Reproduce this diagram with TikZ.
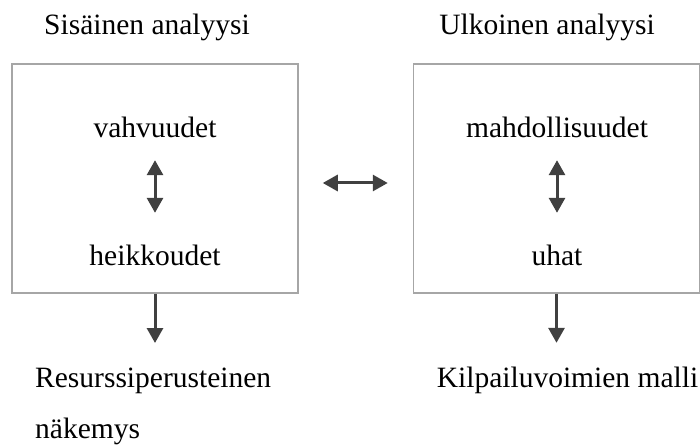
\documentclass[tikz,border=0pt]{standalone}
\usepackage{fontspec}
\setmainfont{Liberation Serif}
\usepackage{xcolor}
\usepackage{tikz}
\usetikzlibrary{positioning, arrows.meta}
\definecolor{boxgray}{HTML}{A6A6A6}
\definecolor{arrgray}{HTML}{404040}

\begin{document}
\begin{tikzpicture}[
  x=1pt, y=-1pt,
  panel/.style={rectangle, draw=boxgray, line width=1.5pt, minimum width=286pt, minimum height=229pt},
  lbl/.style={inner sep=0pt, font={\fontsize{29.5pt}{51pt}\selectfont}, text height=19pt, text depth=6pt},
  arr/.style={-{Triangle[length=15pt, width=16pt]}, line width=3pt, draw=arrgray, fill=arrgray},
  darr/.style={{Triangle[length=15pt, width=16pt]}-{Triangle[length=15pt, width=16pt]}, line width=3pt, draw=arrgray, fill=arrgray}
]
\useasboundingbox (0,0) rectangle (700,446);
\node[panel] (sis) at (155,178.5) {};
\node[panel] (ulk) at (556.5,178.5) {};
\node[lbl, anchor=base] (sist) at (147,35) {Sisäinen analyysi};
\node[lbl, anchor=base] (ulkt) at (547,35) {Ulkoinen analyysi};
\node[lbl, anchor=base] (vah) at (155,138) {vahvuudet};
\node[lbl, anchor=base] (hei) at (155,265) {heikkoudet};
\node[lbl, anchor=base] (mah) at (557,138) {mahdollisuudet};
\node[lbl, anchor=base] (uha) at (557,265) {uhat};
\node[inner sep=0pt, font={\fontsize{29.5pt}{51pt}\selectfont}, align=left, anchor=north west] (res) at (35,368) {Resurssiperusteinen\\näkemys};
\node[lbl, anchor=base] (kil) at (567.5,387) {Kilpailuvoimien malli};
\draw[darr, shorten <=16pt, shorten >=33pt] (vah.south) -- (hei.north);
\draw[darr, shorten <=16pt, shorten >=33pt] (mah.south) -- (uha.north);
\draw[darr, shorten <=24pt, shorten >=25pt] ([yshift=-4.5pt]sis.east) -- ([yshift=-4.5pt]ulk.west);
\draw[arr, shorten >=25pt] (sis.south) -- (sis.south |- res.north);
\draw[arr, shorten >=25pt] (ulk.south) -- (ulk.south |- kil.north);
\end{tikzpicture}
\end{document}
